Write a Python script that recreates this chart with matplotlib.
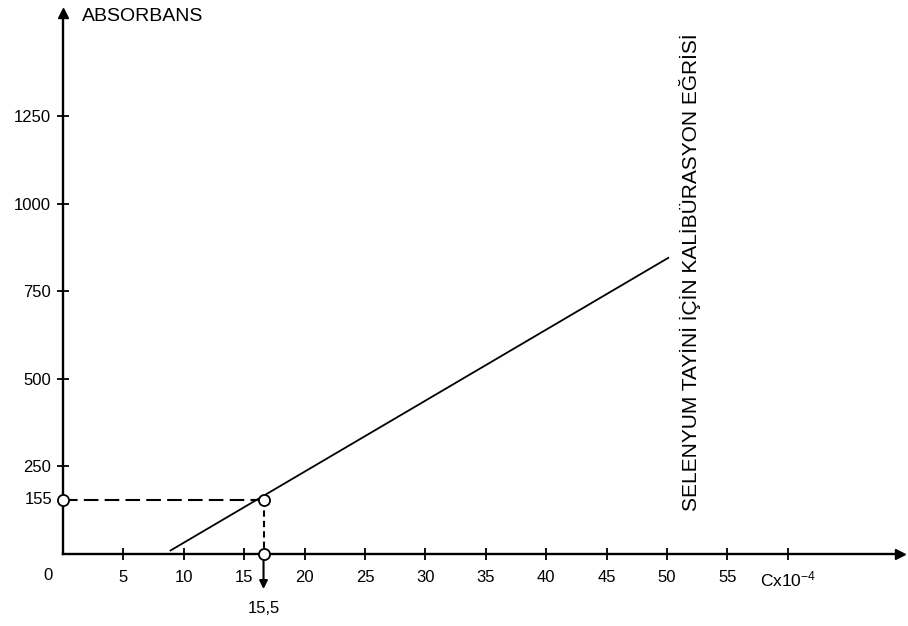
import matplotlib
matplotlib.use("Agg")
import matplotlib.pyplot as plt

plt.rcParams['font.family'] = ['Liberation Sans', 'DejaVu Sans']
plt.rcParams['mathtext.fontset'] = 'custom'
plt.rcParams['mathtext.rm'] = 'Liberation Sans'
plt.rcParams['mathtext.it'] = 'Liberation Sans'

# data
calib_x = [8.9, 50.1]          # C x 10^-4
calib_y = [10, 845]            # absorbans
sample_x = 16.6                # drawn position of the sample concentration
sample_y = 155                 # sample absorbans
sample_label = "15,5"
x_ticks = [5, 10, 15, 20, 25, 30, 35, 40, 45, 50, 55, 60]
x_tick_labels = ["5", "10", "15", "20", "25", "30", "35", "40", "45", "50", "55", "Cx10$^{-4}$"]
y_ticks = [250, 500, 750, 1000, 1250]
y_tick_labels = ["250", "500", "750", "1000", "1250"]
y_title = "ABSORBANS"
side_title = "SELENYUM TAYİNİ İÇİN KALİBÜRASYON EĞRİSİ"

fig = plt.figure(figsize=(9.08, 6.26), dpi=100)
ax = fig.add_axes([0, 0, 1, 1])
ax.set_xlim(-5.215, 69.95)
ax.set_ylim(-205.5, 1581)
ax.patch.set_alpha(0)

for s in ['top', 'right']:
    ax.spines[s].set_visible(False)
ax.spines['left'].set_position(('data', 0))
ax.spines['bottom'].set_position(('data', 0))
ax.spines['left'].set_bounds(0, 1540)
ax.spines['bottom'].set_bounds(0, 69.0)
ax.spines['left'].set_linewidth(1.7)
ax.spines['bottom'].set_linewidth(1.7)

# arrowheads
ax.plot(69.3, 0, marker='>', color='black', markersize=7, clip_on=False)
ax.plot(0, 1545, marker='^', color='black', markersize=7, clip_on=False)

ax.set_xticks(x_ticks)
ax.set_xticklabels(x_tick_labels)
ax.set_yticks(y_ticks)
ax.set_yticklabels(y_tick_labels)
ax.tick_params(axis='both', direction='inout', length=9, width=1.3,
               labelsize=12, colors='black')
ax.tick_params(axis='x', pad=7)
ax.tick_params(axis='y', pad=4)
for lbl in ax.get_xticklabels()[-1:]:
    lbl.set_fontsize(12.5)

ax.text(-1.25, -40, "0", ha='center', va='top', fontsize=12)

# calibration line
ax.plot(calib_x, calib_y, color='black', linewidth=1.3)

# reading of the sample
ax.plot([0, sample_x], [sample_y, sample_y], color='black', linewidth=1.5,
        linestyle=(0, (7, 3)))
ax.plot([sample_x, sample_x], [sample_y, 0], color='black', linewidth=1.5,
        linestyle=(0, (3, 2)))
ax.plot([0, sample_x, sample_x], [sample_y, sample_y, 0], linestyle='none',
        marker='o', markersize=8, markerfacecolor='white',
        markeredgecolor='black', markeredgewidth=1.3, zorder=5)
ax.annotate("", xy=(sample_x, -100), xytext=(sample_x, -12),
            arrowprops=dict(arrowstyle='-|>', color='black', lw=1.5,
                            mutation_scale=12, shrinkA=0, shrinkB=0))
ax.text(sample_x, -155, sample_label, ha='center', va='center', fontsize=12)
ax.text(-0.9, sample_y, str(sample_y), ha='right', va='center', fontsize=12)

ax.text(1.6, 1535, y_title, ha='left', va='center', fontsize=14)
ax.text(51.9, 805, side_title, rotation=90, ha='center', va='center',
        fontsize=15)

fig.savefig("out.png", dpi=100, facecolor='white')
